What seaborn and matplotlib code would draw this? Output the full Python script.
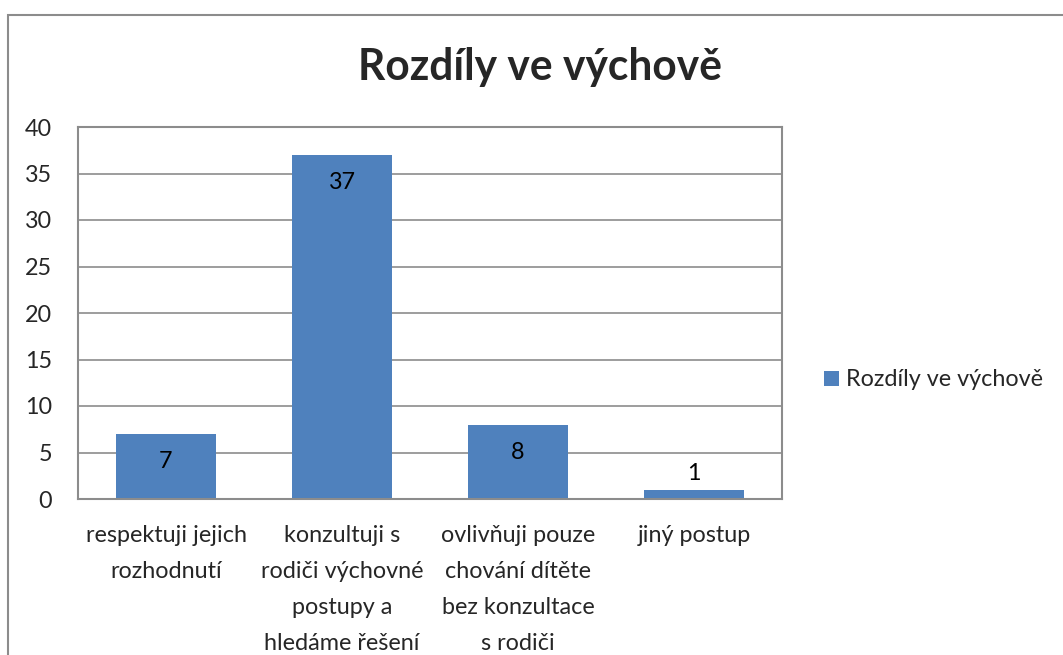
import matplotlib
matplotlib.use("Agg")
import matplotlib.pyplot as plt
import seaborn as sns
import pandas as pd
from matplotlib.patches import Rectangle
from matplotlib.font_manager import FontProperties

categories = [
    "respektuji jejich\nrozhodnutí",
    "konzultuji s\nrodiči výchovné\npostupy a\nhledáme řešení",
    "ovlivňuji pouze\nchování dítěte\nbez konzultace\ns rodiči",
    "jiný postup",
]
values = [7, 37, 8, 1]
series_name = "Rozdíly ve výchově"
title = "Rozdíly ve výchově"
yticks = [0, 5, 10, 15, 20, 25, 30, 35, 40]

sns.set_theme(style="white")
FAMILY = ["Lato", "DejaVu Sans"]
plt.rcParams["font.family"] = FAMILY

W, H = 1063, 655
DPI = 100
fig = plt.figure(figsize=(W / DPI, H / DPI), dpi=DPI)
fig.patch.set_facecolor("white")
renderer = fig.canvas.get_renderer()


def text_width(s, size, weight="normal"):
    t = fig.text(0, 0, s, fontsize=size, fontweight=weight)
    w = t.get_window_extent(renderer).width
    t.remove()
    return w


# font sizes fitted to the reference text widths
fs_a = 17 * 202 / text_width(series_name, 17)
fs_b = 17 * 157 / text_width("respektuji jejich", 17)
FS = (fs_a + fs_b) / 2
FS_T = 30 * 364 / text_width(title, 30, "bold")
fs_px = FS * DPI / 72

prop = FontProperties(family=FAMILY, size=FS)
_, lp_h, lp_d = renderer.get_text_width_height_descent("lp", prop, ismath=False)
asc = lp_h - lp_d
line_sp = 32 / asc
xpad_pt = max(43 - asc, 0) * 72 / DPI

# outer chart border (continues beyond right/bottom edges)
fig.add_artist(Rectangle((8 / W, -0.1), 1.2, (H - 15) / H + 0.1,
                         transform=fig.transFigure, fill=False,
                         edgecolor="#8c8c8c", linewidth=1.5))

left, right, top, bottom = 78, 782, 127, 499
ax = fig.add_axes([left / W, 1 - bottom / H, (right - left) / W, (bottom - top) / H])

df = pd.DataFrame({"cat": categories, "val": values})
bar_color = "#4F81BD"
sns.barplot(data=df, x="cat", y="val", color=bar_color, width=0.57,
            label=series_name, ax=ax, saturation=1, edgecolor="none")

ax.set_ylim(0, 40)
ax.set_xlim(-0.5, len(categories) - 0.5)
ax.set_yticks(yticks)
ax.set_yticklabels([str(t) for t in yticks], fontsize=FS)
ax.tick_params(axis="y", length=0, pad=26 * 72 / DPI)
ax.tick_params(axis="x", length=0, pad=xpad_pt)
ax.set_xticks(range(len(categories)))
ax.set_xticklabels(categories, fontsize=FS, linespacing=line_sp, va="top")
ax.set_xlabel("")
ax.set_ylabel("")
ax.yaxis.grid(True, color="#8c8c8c", linewidth=1.2)
ax.set_axisbelow(True)
for s in ax.spines.values():
    s.set_visible(True)
    s.set_color("#8c8c8c")
    s.set_linewidth(1.5)

# data labels (inside end; above bar when the bar is too short)
for p, v in zip(ax.patches, values):
    cx = p.get_x() + p.get_width() / 2
    h = p.get_height()
    if v >= 3:
        ax.annotate(str(v), (cx, h), xytext=(0, -20), textcoords="offset points",
                    ha="center", va="center", fontsize=FS, color="black")
    else:
        ax.annotate(str(v), (cx, h), xytext=(0, 12), textcoords="offset points",
                    ha="center", va="center", fontsize=FS, color="black")

fig.text(540 / W, 1 - 80 / H, title, ha="center", va="baseline",
         fontsize=FS_T, fontweight="bold")

hl = 15 / fs_px
leg = ax.legend(loc="center left", bbox_to_anchor=(824 / W, 1 - 380 / H),
                bbox_transform=fig.transFigure, frameon=False, fontsize=FS,
                handlelength=hl, handleheight=hl, handletextpad=7 / fs_px,
                borderaxespad=0, borderpad=0)

fig.savefig("out.png", dpi=DPI, facecolor="white")
